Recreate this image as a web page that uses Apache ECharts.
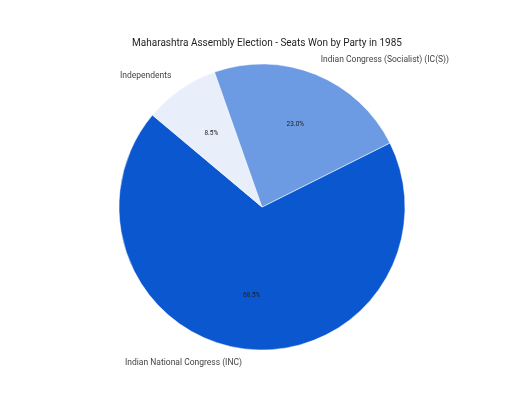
<!DOCTYPE html>
<html>
<head>
<meta charset="utf-8">
<script src="https://cdn.jsdelivr.net/npm/echarts@6/dist/echarts.min.js"></script>
<style>
  html, body { margin: 0; padding: 0; background: #fff; }
  #chart { width: 512px; height: 410px; }
</style>
</head>
<body>
<div id="chart"></div>
<script>
// data
let parties = ['Indian National Congress (INC)', 'Independents', 'Indian Congress (Socialist) (IC(S))']
let shares = [68.5, 8.5, 23.0]
let colors = ['#0b57d0', '#e8eefa', '#6c9be3']

// where each outside label sits (layout only)
let labelSpots = {
    'Indian National Congress (INC)': { x: 125, y: 363, align: 'left' },
    'Independents': { x: 120, y: 76, align: 'left' },
    'Indian Congress (Socialist) (IC(S))': { x: 449, y: 60, align: 'right' }
}

let pieData = parties.map(function (p, i) {
    return { name: p, value: shares[i], itemStyle: { color: colors[i] } }
})

let setChart = function (ele, options) {
    let myChart = echarts.init(ele)
    myChart.setOption(options)
    return myChart
}

let options = {
    animation: false,
    title: {
        text: 'Maharashtra Assembly Election - Seats Won by Party in 1985',
        left: 262,
        textAlign: 'center',
        top: 33,
        textStyle: { fontFamily: 'Roboto', fontSize: 10, fontWeight: 'normal', color: '#1f1f1f' }
    },
    series: [
        {
            type: 'pie',
            center: [262, 207],
            radius: 143,
            startAngle: 26.6,
            clockwise: true,
            avoidLabelOverlap: false,
            silent: true,
            itemStyle: { borderColor: '#fff', borderWidth: 0.5 },
            label: {
                show: true,
                position: 'outside',
                formatter: '{b}',
                fontFamily: 'Roboto',
                fontSize: 8.5,
                color: '#444'
            },
            labelLine: { show: false },
            labelLayout: function (params) {
                let s = labelSpots[params.text]
                if (!s) return {}
                return { x: s.x, y: s.y, align: s.align, verticalAlign: 'middle' }
            },
            data: pieData
        },
        {
            // transparent copy, only carries the percent labels at 0.6 R
            type: 'pie',
            center: [262, 207],
            radius: 172,
            startAngle: 26.6,
            clockwise: true,
            silent: true,
            itemStyle: { color: 'transparent' },
            label: {
                show: true,
                position: 'inside',
                formatter: function (p) { return p.value.toFixed(1) + '%' },
                fontFamily: 'Roboto',
                fontSize: 6.5,
                color: '#222'
            },
            labelLine: { show: false },
            data: parties.map(function (p, i) { return { name: p, value: shares[i] } })
        }
    ]
}

setChart(document.getElementById('chart'), options)
</script>
</body>
</html>
